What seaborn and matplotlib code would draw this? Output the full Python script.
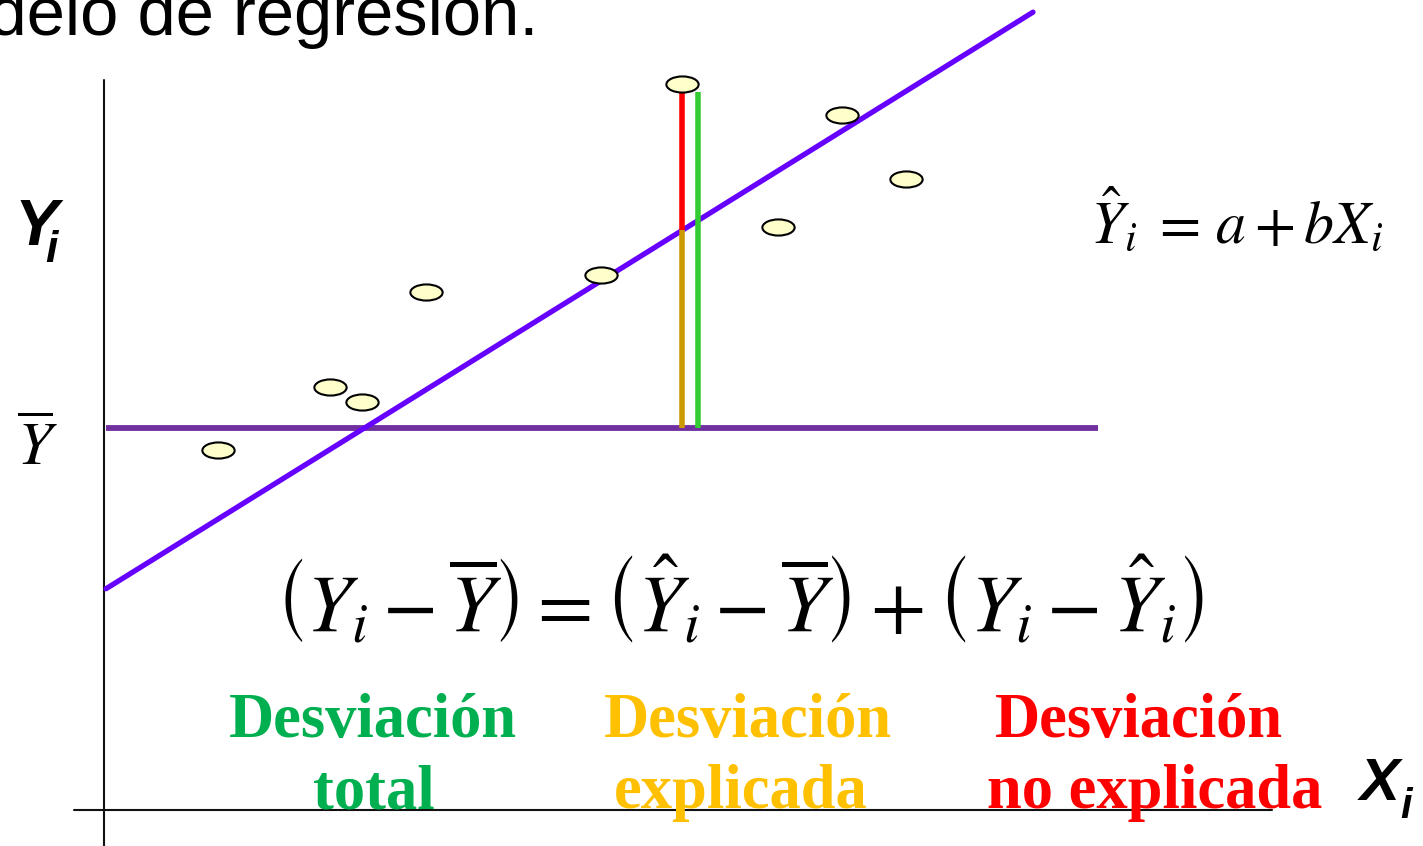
import numpy as np
import pandas as pd
import matplotlib
matplotlib.use("Agg")
import matplotlib.pyplot as plt
from matplotlib.path import Path
from matplotlib.markers import MarkerStyle
from matplotlib.transforms import Affine2D
import seaborn as sns

# Observations (X_i, Y_i)
obs_x = [11.4, 22.6, 25.8, 32.2, 49.7, 57.8, 67.4, 73.8, 80.2]
obs_y = [36.0, 42.3, 40.8, 51.8, 53.5, 72.6, 58.3, 69.5, 63.1]

# Fitted line  Y^ = a + b X  and the mean of Y
intercept_a = 22.0
slope_b = 0.622
line_x = [0.2, 92.9]
y_mean = 38.2
mean_x = [0.2, 99.4]

# Observation used to show the decomposition of the deviation
focus_idx = 5
green_offset = 1.6

label_lines = {
    "total": ["Desviación", "total"],
    "explicada": ["Desviación", "explicada"],
    "no_explicada": ["Desviación", "no explicada"],
}

sns.set_theme(style="white")
plt.rcParams["text.color"] = "black"

fig = plt.figure(figsize=(14.23, 8.46), dpi=100)
ax = fig.add_axes([0, 0, 1, 1])
ax.set_xlim(-10.4, 131.9)
ax.set_ylim(-3.6, 81.0)
ax.set_axis_off()

# coordinate axes
ax.plot([0, 0], [-3.6, 73.0], color="#111111", lw=1.5, zorder=1)
ax.plot([-3.0, 116.8], [0, 0], color="#111111", lw=1.5, zorder=1)

# mean line
ax.plot(mean_x, [y_mean, y_mean], color="#7030A0", lw=4.2, solid_capstyle="butt", zorder=2)

# regression line
reg = pd.DataFrame({"x": line_x})
reg["y"] = intercept_a + slope_b * reg["x"]
sns.lineplot(data=reg, x="x", y="y", ax=ax, color="#6600FF", lw=3.8, zorder=3)

# deviation segments for the focus observation
fx = obs_x[focus_idx]
fy = obs_y[focus_idx]
fy_hat = intercept_a + slope_b * fx
top = fy - 0.8
ax.plot([fx, fx], [top, fy_hat], color="#FF0000", lw=4.0, solid_capstyle="butt", zorder=4)
ax.plot([fx, fx], [fy_hat, y_mean], color="#CC9900", lw=4.0, solid_capstyle="butt", zorder=4)
ax.plot([fx + green_offset] * 2, [top, y_mean], color="#33CC33", lw=4.0,
        solid_capstyle="butt", zorder=4)

# observations as small ellipses
circle = Path.unit_circle()
ellipse = Path(Affine2D().scale(2.0, 1.0).transform(circle.vertices), circle.codes)
pts = pd.DataFrame({"x": obs_x, "y": obs_y})
sns.scatterplot(data=pts, x="x", y="y", ax=ax, marker=MarkerStyle(ellipse), s=540,
                color="#FFFFCC", edgecolor="black", linewidth=1.5, zorder=5, legend=False)
ax.set_xlabel("")
ax.set_ylabel("")

# heading line partly outside the canvas
ax.text(43.4, 77.5, "modelo de regresión.", family="Liberation Sans", fontsize=49.5,
        ha="right", va="baseline", color="black", clip_on=False)

# axis names
bold_it = dict(family="Liberation Sans", fontweight="bold", style="italic", color="black")
ax.text(-8.9, 56.5, "Y", fontsize=47, ha="left", va="baseline", **bold_it)
ax.text(-5.9, 54.8, "i", fontsize=32, ha="left", va="baseline", **bold_it)
ax.text(125.6, 1.0, "X", fontsize=43, ha="left", va="baseline", **bold_it)
ax.text(129.6, -0.8, "i", fontsize=30, ha="left", va="baseline", **bold_it)
ax.text(-6.7, 34.5, r"$\overline{Y}$", math_fontfamily="stix", fontsize=44,
        ha="center", va="baseline")

# regression equation
ax.text(98.6, 56.7, r"$\hat{Y}_i\;=\,a + bX_i$", math_fontfamily="stix", fontsize=43,
        ha="left", va="baseline")

# decomposition of the deviation
ax.text(63.5, 17.8,
        r"$\left(Y_i - \overline{Y}\right) = \left(\hat{Y}_i - \overline{Y}\right)"
        r" + \left(Y_i - \hat{Y}_i\right)$",
        math_fontfamily="stix", fontsize=58, ha="center", va="baseline")

label_specs = [
    ("total", "#00B050", 26.9, 27.0),
    ("explicada", "#FFC000", 64.4, 63.7),
    ("no_explicada", "#FF0000", 103.5, 105.1),
]
for key, col, cx1, cx2 in label_specs:
    l1, l2 = label_lines[key]
    ax.text(cx1, 7.3, l1, family="Liberation Serif", fontweight="bold", fontsize=45,
            color=col, ha="center", va="baseline")
    ax.text(cx2, 0.2, l2, family="Liberation Serif", fontweight="bold", fontsize=45,
            color=col, ha="center", va="baseline")

fig.savefig("out.png", dpi=100, facecolor="white")
